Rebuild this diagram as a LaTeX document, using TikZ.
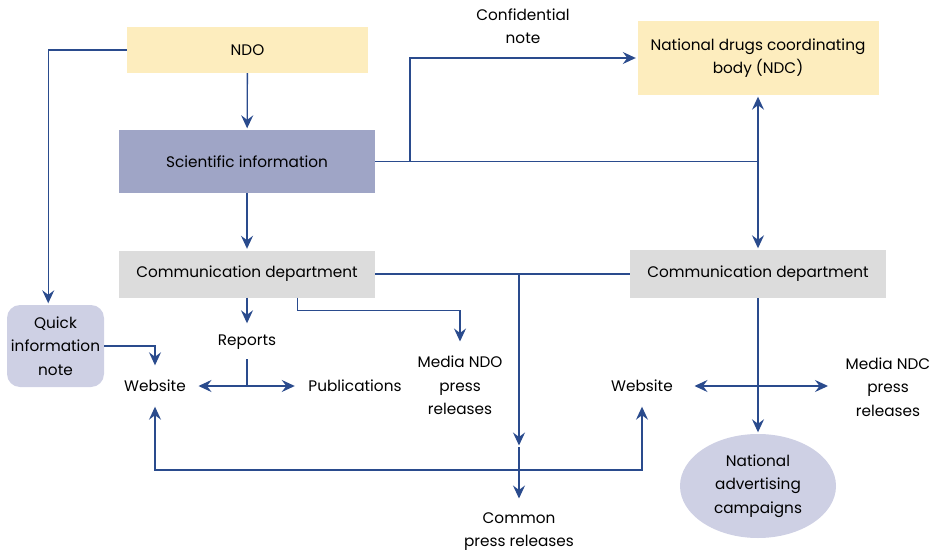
\documentclass[tikz,border=0pt]{standalone}
\usepackage{fontspec}
\setmainfont{Poppins}
\usetikzlibrary{arrows.meta,shapes.geometric}
\definecolor{linec}{HTML}{2A4B8D}
\definecolor{ndoy}{HTML}{FDEDBE}
\definecolor{scib}{HTML}{9FA5C6}
\definecolor{greyb}{HTML}{DCDCDC}
\definecolor{lav}{HTML}{CED0E4}
\begin{document}
\begin{tikzpicture}[x=1pt,y=-1pt,
  txt/.style={font=\fontsize{15.3}{23.5}\selectfont, align=center, text=black},
  box/.style={txt, inner sep=0pt},
  lbl/.style={txt, inner sep=0pt},
  tip/.style={Stealth[length=13pt,width=12pt,inset=4.5pt]},
  link/.style={draw=linec, line width=1.3pt},
  arr/.style={link, -{Stealth[length=13pt,width=12pt,inset=4.5pt]}, shorten >=1.5pt},
  arrb/.style={link, {Stealth[length=13pt,width=12pt,inset=4.5pt]}-{Stealth[length=13pt,width=12pt,inset=4.5pt]}, shorten >=1.5pt, shorten <=1.5pt}]
\useasboundingbox (0,0) rectangle (947,559);

% boxes
\node[box, fill=ndoy, minimum width=241pt, minimum height=46pt] (ndo) at (247.5,50) {NDO};
\node[box, fill=scib, minimum width=256pt, minimum height=63pt] (sci) at (247,161.5) {Scientific information};
\node[box, fill=greyb, minimum width=256pt, minimum height=47pt] (cdl) at (247,274) {Communication department};
\node[box, fill=ndoy, minimum width=241pt, minimum height=74pt] (ndc) at (758,58) {National drugs coordinating\\body (NDC)};
\node[box, fill=greyb, minimum width=256pt, minimum height=48pt] (cdr) at (758,274) {Communication department};
\node[box, fill=lav, rounded corners=13pt, minimum width=97pt, minimum height=82pt] (qin) at (55.5,346) {Quick\\information\\note};
\node[ellipse, fill=lav, txt, inner sep=0pt, minimum width=156pt, minimum height=104pt] (nac) at (758,486) {National\\advertising\\campaigns};

% plain labels
\node[lbl] (conf) at (523,26) {Confidential\\note};
\node[lbl, minimum height=34pt] (rep) at (247,342) {Reports};
\node[lbl, minimum height=38pt, inner xsep=11pt] (wl) at (155,386) {Website};
\node[lbl, minimum height=38pt, inner xsep=12pt] (pub) at (355,386) {Publications};
\node[lbl, inner xsep=0pt, inner ysep=13pt, anchor=north] (mndo) at (460,343) {Media NDO\\press\\releases};
\node[lbl, minimum height=38pt, inner xsep=20pt] (wr) at (642,386) {Website};
\node[lbl, inner xsep=16pt] (mndc) at (888,387) {Media NDC\\press\\releases};
\node[lbl, inner ysep=12pt, anchor=north] (cpr) at (519,500) {Common\\press releases};

% junction points
\coordinate (cj) at (410,161.5);
\coordinate (dj) at (519,274);
\coordinate (mid) at (519,447);
\coordinate (bus) at (519,470);

% connectors
\draw[arr] (ndo.west) -| (qin.100);
\draw[arr] (ndo) -- (sci);
\draw[arr] (sci) -- (cdl);
\draw[link] (sci.east) -- (sci.east -| ndc.south);
\draw[arr] (cj) |- (ndc.west);
\draw[arrb] (ndc) -- (cdr);

\draw[link] (cdl.east) -- (cdl.east -| cdr.west);
\draw[arr] (dj) -- (mid);
\draw[arr] (mid) -- (cpr.north);
\draw[arrb] (wl.south) |- (bus) -| (wr.south);

\draw[arr] (cdl) -- (rep);
\draw[arr] (rep.south) |- (pub.west);
\draw[arr] (rep.south) |- (wl.east);
\draw[arr] (cdl.-25.2) -- ++(0,13) -| (mndo.north);
\draw[arr] (qin.east) -| (wl.north);

\draw[arr] (cdr) -- (nac);
\draw[arrb] (wr.east) -- (wr.east -| mndc.west);
\end{tikzpicture}
\end{document}
